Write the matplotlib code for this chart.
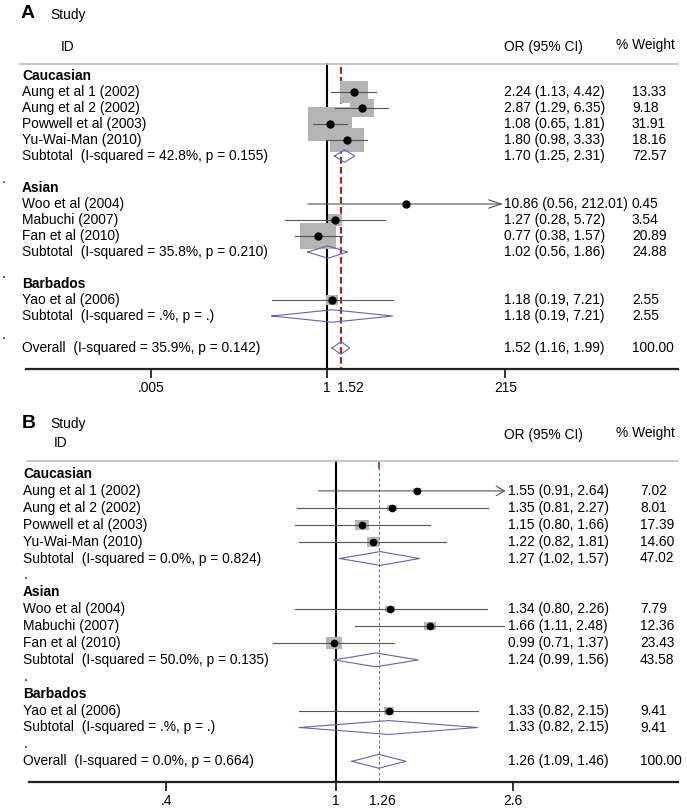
import numpy as np
import matplotlib
matplotlib.use('Agg')
import matplotlib.pyplot as plt
from matplotlib.path import Path
from matplotlib.ticker import NullLocator
from matplotlib.transforms import blended_transform_factory

plt.rcParams['font.family'] = ['Liberation Sans', 'DejaVu Sans']

W, H = 687, 808

groups = ['Caucasian', 'Asian', 'Barbados']
group_studies = [
    ['Aung et al 1 (2002)', 'Aung et al 2 (2002)', 'Powwell et al (2003)', 'Yu-Wai-Man (2010)'],
    ['Woo et al (2004)', 'Mabuchi (2007)', 'Fan et al (2010)'],
    ['Yao et al (2006)'],
]

# panel A
or_a = [2.24, 2.87, 1.08, 1.80, 10.86, 1.27, 0.77, 1.18]
lo_a = [1.13, 1.29, 0.65, 0.98, 0.56, 0.28, 0.38, 0.19]
hi_a = [4.42, 6.35, 1.81, 3.33, 212.01, 5.72, 1.57, 7.21]
w_a = [13.33, 9.18, 31.91, 18.16, 0.45, 3.54, 20.89, 2.55]
sub_or_a = [1.70, 1.02, 1.18]
sub_lo_a = [1.25, 0.56, 0.19]
sub_hi_a = [2.31, 1.86, 7.21]
sub_w_a = [72.57, 24.88, 2.55]
sub_i2_a = ['42.8%', '35.8%', '.%']
sub_p_a = ['0.155', '0.210', '.']
tot_a = [1.52, 1.16, 1.99, 100.00]
tot_het_a = ['35.9%', '0.142']
ticks_a = [0.005, 1, 215]
ticklabels_a = ['.005', '1', '215']

# panel B
or_b = [1.55, 1.35, 1.15, 1.22, 1.34, 1.66, 0.99, 1.33]
lo_b = [0.91, 0.81, 0.80, 0.82, 0.80, 1.11, 0.71, 0.82]
hi_b = [2.64, 2.27, 1.66, 1.81, 2.26, 2.48, 1.37, 2.15]
w_b = [7.02, 8.01, 17.39, 14.60, 7.79, 12.36, 23.43, 9.41]
sub_or_b = [1.27, 1.24, 1.33]
sub_lo_b = [1.02, 0.99, 0.82]
sub_hi_b = [1.57, 1.56, 2.15]
sub_w_b = [47.02, 43.58, 9.41]
sub_i2_b = ['0.0%', '50.0%', '.%']
sub_p_b = ['0.824', '0.135', '.']
tot_b = [1.26, 1.09, 1.46, 100.00]
tot_het_b = ['0.0%', '0.664']
ticks_b = [0.4, 1, 2.6]
ticklabels_b = ['.4', '1', '2.6']

FS = 9.9
box_marker = Path([(-1.35, -1), (1.35, -1), (1.35, 1), (-1.35, 1), (-1.35, -1)],
                  [Path.MOVETO, Path.LINETO, Path.LINETO, Path.LINETO, Path.CLOSEPOLY])

fig = plt.figure(figsize=(W / 100, H / 100), dpi=100)


def draw_panel(p, est, lo, hi, wt, s_or, s_lo, s_hi, s_w, s_i2, s_p, tot, het, ticks, ticklabels):
    ax = fig.add_axes([0, 1 - p['bottom'] / H, 1, (p['bottom'] - p['top']) / H])
    ax.set_xscale('log')
    ax.set_xlim(np.exp(-p['x1'] / p['ln']), np.exp((W - p['x1']) / p['ln']))
    ax.set_ylim((p['bottom'] - p['row0']) / p['dy'], (p['top'] - p['row0']) / p['dy'])
    tr = blended_transform_factory(ax.transAxes, ax.transData)
    ry = lambda py: (py - p['row0']) / p['dy']
    xv = lambda px: np.exp((px - p['x1']) / p['ln'])

    # headers
    ax.text(p['letter_x'] / W, ry(p['letter_y']), p['letter'], transform=tr, fontsize=14,
            fontweight='bold', va='center', ha='left')
    ax.text(50 / W, ry(p['study_y']), 'Study', transform=tr, fontsize=FS, va='center')
    ax.text(p['id_x'] / W, ry(p['id_y']), 'ID', transform=tr, fontsize=FS, va='center')
    ax.text(504 / W, ry(p['orh_y']), 'OR (95% CI)', transform=tr, fontsize=FS, va='center')
    ax.text(616 / W, ry(p['wth_y']), '% Weight', transform=tr, fontsize=FS, va='center')
    ax.axhline(ry(p['line_y']), xmin=p['line_x0'] / W, xmax=678 / W, color='#c4c4c4', lw=1.3)

    axis_row = ry(p['axis_y'])
    # null line and overall line
    ax.plot([1, 1], [ry(p['line_y']), axis_row], color='black', lw=1.5, zorder=1)
    ax.plot([tot[0], tot[0]], [ry(p['dash_top']), axis_row], color=p['dash_color'],
            lw=p['dash_lw'], dashes=p['dashes'], zorder=1)
    if p.get('red_tip'):
        ax.plot([tot[0], tot[0]], [ry(p['dash_top']), ry(p['dash_top'] + 6)], color='#a83232',
                lw=1.2, zorder=1)

    row = 0
    k = 0
    for g, name in enumerate(groups):
        ax.text(p['lab_x'] / W, row, name, transform=tr, fontsize=FS, fontweight='bold', va='center')
        row += 1
        for study in group_studies[g]:
            ax.text(p['lab_x'] / W, row, study, transform=tr, fontsize=FS, va='center')
            ax.text(p['or_x'] / W, row, f'{est[k]:.2f} ({lo[k]:.2f}, {hi[k]:.2f})', transform=tr,
                    fontsize=FS, va='center')
            ax.text(p['wt_x'] / W, row, f'{wt[k]:.2f}', transform=tr, fontsize=FS, va='center')
            ax.scatter([est[k]], [row], s=p['box_k'] * wt[k], marker=box_marker, color='#b5b5b5',
                       linewidths=0, zorder=2)
            upper = min(hi[k], p['clip'])
            if hi[k] > p['clip']:
                ax.annotate('', xy=(upper, row), xytext=(lo[k], row),
                            arrowprops=dict(arrowstyle=p['arrow'], color='#555555', lw=0.8,
                                            shrinkA=0, shrinkB=0, mutation_scale=10), zorder=3)
            else:
                ax.plot([lo[k], upper], [row, row], color='#555555', lw=0.8, zorder=3)
            ax.plot([est[k]], [row], 'o', color='black', ms=p['dot'], zorder=4)
            row += 1
            k += 1
        ax.text(p['sub_x'] / W, row, f'Subtotal  (I-squared = {s_i2[g]}, p = {s_p[g]})', transform=tr,
                fontsize=FS, va='center')
        ax.text(p['or_x'] / W, row, f'{s_or[g]:.2f} ({s_lo[g]:.2f}, {s_hi[g]:.2f})', transform=tr,
                fontsize=FS, va='center')
        ax.text(p['wt_x'] / W, row, f'{s_w[g]:.2f}', transform=tr, fontsize=FS, va='center')
        h = p['dh']
        ax.plot([s_lo[g], s_or[g], s_hi[g], s_or[g], s_lo[g]], [row, row - h, row, row + h, row],
                color='#6464b4', lw=0.8, zorder=3)
        row += 1
        ax.text(p['dot_x'] / W, row + p['dot_off'][g], '.', transform=tr, fontsize=FS, va='center')
        row += 1

    ax.text(p['lab_x'] / W, row, f'Overall  (I-squared = {het[0]}, p = {het[1]})', transform=tr,
            fontsize=FS, va='center')
    ax.text(p['or_x'] / W, row, f'{tot[0]:.2f} ({tot[1]:.2f}, {tot[2]:.2f})', transform=tr,
            fontsize=FS, va='center')
    ax.text(p['wt_x'] / W, row, f'{tot[3]:.2f}', transform=tr, fontsize=FS, va='center')
    h = p['dh']
    ax.plot([tot[1], tot[0], tot[2], tot[0], tot[1]], [row, row - h, row, row + h, row],
            color='#6464b4', lw=0.8, zorder=3)

    # x axis
    for side in ['top', 'left', 'right']:
        ax.spines[side].set_visible(False)
    ax.spines['bottom'].set_position(('data', axis_row))
    ax.spines['bottom'].set_bounds(xv(p['axis_x0']), xv(678))
    ax.spines['bottom'].set_linewidth(1.6)
    ax.spines['bottom'].set_color('#222222')
    ax.set_xticks(ticks)
    ax.set_xticklabels(ticklabels)
    ax.xaxis.set_minor_locator(NullLocator())
    ax.tick_params(axis='x', direction='out', length=6.5, width=1.3, pad=2, labelsize=FS,
                   color='#222222')
    ax.set_yticks([])
    ax.annotate(f'{tot[0]:.2f}', xy=(tot[0], axis_row), xytext=(p['tot_dx'], -13.5),
                textcoords='offset points', ha='center', va='center', fontsize=FS)
    ax.patch.set_visible(False)
    return ax


pa = dict(top=0, bottom=410, row0=76, dy=16.0, x1=327, ln=33.2, letter='A', letter_x=21,
          letter_y=14, study_y=15, id_x=61, id_y=47, orh_y=47, wth_y=45, line_y=64, line_x0=20,
          axis_y=369, axis_x0=26, dash_top=67, dash_color='#9a2b2b', dash_lw=1.6, dashes=(3, 1.5),
          lab_x=22, sub_x=22, or_x=504, wt_x=632, clip=200, dot=5, box_k=32.4, dh=0.39,
          arrow='->,head_length=0.9,head_width=0.3', dot_x=2, dot_off=[0.45, 0.35, 0.2], tot_dx=7)
pb = dict(top=410, bottom=808, row0=474, dy=16.9, x1=336, ln=185, letter='B', letter_x=22,
          letter_y=424, study_y=424, id_x=54, id_y=443, orh_y=435, wth_y=433, line_y=461, line_x0=27,
          axis_y=782, axis_x0=29, dash_top=462, dash_color='#707070', dash_lw=0.7, dashes=(3, 2.5),
          red_tip=True, lab_x=23, sub_x=23, or_x=508, wt_x=640, clip=2.5, dot=4.5, box_k=5.6, dh=0.41,
          arrow='->,head_length=0.6,head_width=0.35', dot_x=24, dot_off=[0, 0, 0], tot_dx=2.5)

draw_panel(pa, or_a, lo_a, hi_a, w_a, sub_or_a, sub_lo_a, sub_hi_a, sub_w_a, sub_i2_a, sub_p_a,
           tot_a, tot_het_a, ticks_a, ticklabels_a)
draw_panel(pb, or_b, lo_b, hi_b, w_b, sub_or_b, sub_lo_b, sub_hi_b, sub_w_b, sub_i2_b, sub_p_b,
           tot_b, tot_het_b, ticks_b, ticklabels_b)

fig.savefig('out.png', dpi=100)
